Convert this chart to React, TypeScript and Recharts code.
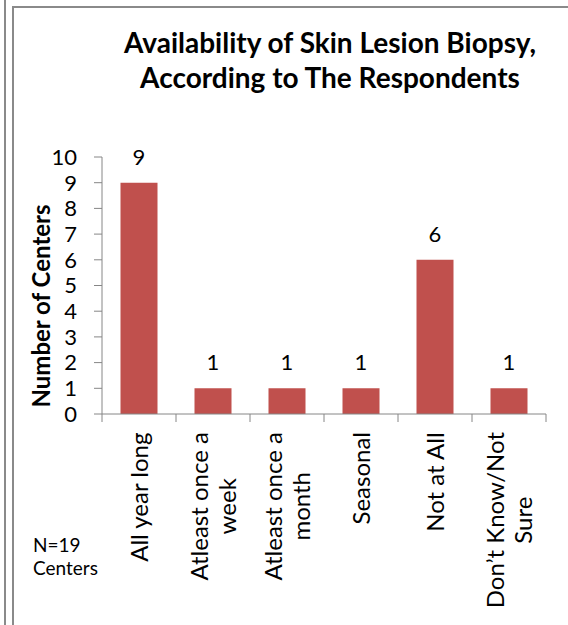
import { Bar, BarChart, Label, LabelList, XAxis, YAxis } from "recharts"

const categories = [
  "All year long",
  "Atleast once a\nweek",
  "Atleast once a\nmonth",
  "Seasonal",
  "Not at All",
  "Don’t Know/Not\nSure",
]
const centers = [9, 1, 1, 1, 6, 1]
const yTicks = [0, 1, 2, 3, 4, 5, 6, 7, 8, 9, 10]
const titleLines = ["Availability of Skin Lesion Biopsy,", "According to The Respondents"]
const noteLines = ["N=19", "Centers"]

const W = 568
const H = 625
const FONT = "Lato, 'Open Sans', sans-serif"
const AXIS = "#868686"
const BAR = "#C0504D"
const MARGIN = { top: 157, right: 22, left: 62, bottom: 0 }
const Y_W = 40
const X_H = 211
const PLOT_W = W - MARGIN.left - MARGIN.right - Y_W
const CAT_SIZE = 24

let ctx: CanvasRenderingContext2D | null = null
function textWidth(s: string, size: number) {
  if (!ctx) ctx = document.createElement("canvas").getContext("2d")
  if (!ctx) return s.length * size * 0.5
  ctx.font = `${size}px Lato`
  return ctx.measureText(s).width
}

function CategoryTick(props: any) {
  const { x, y, payload, index } = props
  const band = PLOT_W / categories.length
  const lines = String(payload.value).split("\n")
  const maxW = Math.max(...lines.map((l) => textWidth(l, CAT_SIZE)))
  const cy = y + 18 + maxW / 2
  const lh = 28
  return (
    <g>
      <line x1={x - band / 2} x2={x - band / 2} y1={y} y2={y + 8} stroke={AXIS} />
      {index === categories.length - 1 && (
        <line x1={x + band / 2} x2={x + band / 2} y1={y} y2={y + 8} stroke={AXIS} />
      )}
      {lines.map((ln, i) => {
        const cx = x + (i - (lines.length - 1) / 2) * lh
        return (
          <text
            key={i}
            x={cx}
            y={cy}
            transform={`rotate(-90 ${cx} ${cy})`}
            textAnchor="middle"
            dominantBaseline="central"
            fontSize={CAT_SIZE}
            fill="#000"
          >
            {ln}
          </text>
        )
      })}
    </g>
  )
}

export default function App() {
  const data = categories.map((name, i) => ({ name, value: centers[i] }))

  return (
    <div style={{ position: "absolute", left: 0, top: 0, width: W, height: H, background: "#fff", fontFamily: FONT }}>
      <BarChart width={W} height={H} data={data} margin={MARGIN} barCategoryGap="25%">
        <XAxis
          dataKey="name"
          height={X_H}
          interval={0}
          tickLine={false}
          tickSize={0}
          tickMargin={0}
          axisLine={{ stroke: AXIS }}
          tick={<CategoryTick />}
        />
        <YAxis
          width={Y_W}
          domain={[0, 10]}
          ticks={yTicks}
          interval={0}
          tickSize={8}
          tickMargin={17}
          axisLine={{ stroke: AXIS }}
          tickLine={{ stroke: AXIS }}
          tick={{ fontSize: 22, fill: "#000" }}
        >
          <Label
            content={() => (
              <text
                x={40}
                y={306}
                transform="rotate(-90 40 306)"
                textAnchor="middle"
                dominantBaseline="central"
                fontSize={24}
                fontWeight="bold"
                fill="#000"
              >
                Number of Centers
              </text>
            )}
          />
        </YAxis>
        <Bar dataKey="value" fill={BAR} isAnimationActive={false}>
          <LabelList dataKey="value" position="top" offset={18} fontSize={22} fill="#000" />
        </Bar>
      </BarChart>
      <svg width={W} height={H} style={{ position: "absolute", left: 0, top: 0, pointerEvents: "none" }}>
        <rect x={4} y={0} width={2} height={H} fill="#8a8a8a" />
        <rect x={12} y={6} width={2} height={H - 6} fill="#8a8a8a" />
        <rect x={12} y={6} width={W - 12} height={2} fill="#8a8a8a" />
        {titleLines.map((t, i) => (
          <text key={t} x={330} y={53 + i * 35} textAnchor="middle" fontSize={28} fontWeight="bold" fill="#000">
            {t}
          </text>
        ))}
        {noteLines.map((t, i) => (
          <text key={t} x={33} y={552 + i * 23} fontSize={19} fill="#000">
            {t}
          </text>
        ))}
      </svg>
    </div>
  )
}
